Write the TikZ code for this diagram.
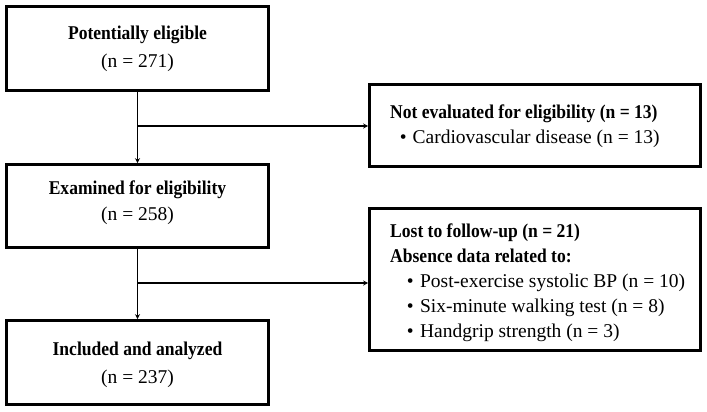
\documentclass[tikz,border=0pt]{standalone}
\usepackage{fontspec}
\setmainfont{Liberation Serif}[BoldFeatures={FakeStretch=0.9}]
\usetikzlibrary{arrows.meta}
\begin{document}
\begin{tikzpicture}[x=1pt,y=-1pt,
  box/.style={draw=black, line width=2.6pt, inner sep=0pt},
  lbox/.style={box, minimum width=262pt, minimum height=84pt},
  rbox/.style={box, minimum width=331pt},
  txt/.style={inner sep=0pt, font=\fontsize{19.5}{28}\selectfont, align=center},
  rtxt/.style={inner sep=0pt, font=\fontsize{19.5}{25}\selectfont, align=left, anchor=west},
  conn/.style={draw=black, line width=1.3pt, -{Stealth[length=5pt,width=5pt,inset=1.5pt]}}
]
\useasboundingbox (0,0) rectangle (707,412);
% left boxes
\node[lbox] (pe) at (137.5,48.5) {};
\node[lbox, minimum height=83pt] (ex) at (137.5,206) {};
\node[lbox] (ia) at (137.5,362.5) {};
% right boxes
\node[rbox, minimum height=82pt] (ne) at (535,125.5) {};
\node[rbox, minimum height=142pt] (lo) at (535,279.5) {};
% texts
\node[txt] (pet) at (137.5,49) {\textbf{Potentially eligible}\\(n = 271)};
\node[txt, font=\fontsize{19.5}{26}\selectfont] (ext) at (137.5,203) {\textbf{Examined for eligibility}\\(n = 258)};
\node[txt] (iat) at (137.5,365) {\textbf{Included and analyzed}\\(n = 237)};
\node[rtxt] (net) at (390,126) {\textbf{Not evaluated for eligibility (n = 13)}\\
  \hspace*{9.6pt}•\hspace{6pt}Cardiovascular disease (n = 13)};
\node[rtxt] (lot) at (390,283) {\textbf{Lost to follow-up (n = 21)}\\
  \textbf{Absence data related to:}\\
  \hspace*{16.6pt}•\hspace{6.5pt}Post-exercise systolic BP (n = 10)\\
  \hspace*{16.6pt}•\hspace{6.5pt}Six-minute walking test (n = 8)\\
  \hspace*{16.6pt}•\hspace{6.5pt}Handgrip strength (n = 3)};
% connectors
\coordinate (b1) at (137.5,126);
\coordinate (b2) at (137.5,283);
\draw[conn] (pe.south) -- (ex.north);
\draw[conn] (b1) -- (b1 -| ne.west);
\draw[conn] (ex.south) -- (ia.north);
\draw[conn] (b2) -- (b2 -| lo.west);
\end{tikzpicture}
\end{document}
